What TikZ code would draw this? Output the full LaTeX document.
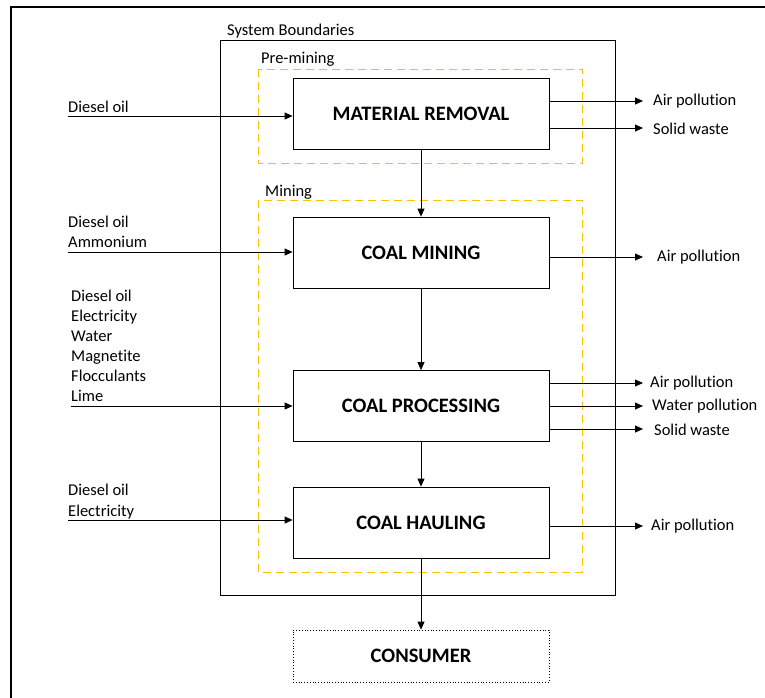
\documentclass[tikz,border=0pt]{standalone}
\usepackage{fontspec}
\setmainfont{Carlito}[Ligatures={NoCommon}]
\usetikzlibrary{arrows.meta}
\begin{document}
\begin{tikzpicture}[x=1pt,y=-1pt,
  every node/.style={font=\fontsize{16.5}{19}\selectfont},
  proc/.style={draw, line width=0.8pt, minimum width=256pt, minimum height=71pt, inner sep=0pt,
     font=\fontsize{20.5}{24}\selectfont\bfseries},
  zone/.style={line width=1pt, dash pattern=on 8pt off 5pt},
  arr/.style={line width=0.8pt, -{Triangle[length=8pt,width=7pt]}},
  txt/.style={inner sep=0pt, anchor=base west},
  outl/.style={inner sep=0pt, anchor=west}]
\definecolor{zoneorange}{HTML}{FFC000}
\useasboundingbox (0,0) rectangle (765,697);
\begin{scope}
\clip (0,0) rectangle (765,697);
\draw[line width=2.2pt] (11,720) -- (11,7) -- (790,7);
\end{scope}
% system boundary
\draw[line width=0.8pt] (220,40) rectangle (615,595);
\node[txt] (sb) at (227,35) {System Boundaries};
% zones
\draw[zone, draw=zoneorange] (258,69) rectangle (582,163);
\node[txt] (pm) at (261,63) {Pre-mining};
\draw[zone, draw=zoneorange] (258,200) rectangle (582,572);
\node[txt] (mn) at (265,196) {Mining};
% process boxes
\node[proc] (mr) at (421,113.5) {\raisebox{-4pt}{MATERIAL REMOVAL}};
\node[proc] (cm) at (421,252.5) {COAL MINING};
\node[proc] (cp) at (421,406) {COAL PROCESSING};
\node[proc] (ch) at (421,522.5) {\raisebox{-1pt}{COAL HAULING}};
\node[proc, dotted, line width=0.7pt, minimum height=52pt] (cs) at (421,656) {CONSUMER};
% vertical flow
\draw[arr] (mr) -- (cm);
\draw[arr] (cm) -- (cp);
\draw[arr] (cp) -- (ch);
\draw[arr] (ch) -- (cs);
% inputs
\node[txt] (l1) at (68,112) {Diesel oil};
\coordinate (i1) at (68,116);
\draw[arr] (i1) -- (mr.west |- i1);
\node[txt] (l2a) at (68,227) {Diesel oil};
\node[txt] (l2b) at (68,247) {Ammonium};
\coordinate (i2) at (68,252);
\draw[arr] (i2) -- (cm.west |- i2);
\node[txt] (l3a) at (71,301) {Diesel oil};
\node[txt] (l3b) at (71,321) {Electricity};
\node[txt] (l3c) at (71,341) {Water};
\node[txt] (l3d) at (71,361) {Magnetite};
\node[txt] (l3e) at (71,381) {Flocculants};
\node[txt] (l3f) at (71,401) {Lime};
\coordinate (i3) at (71,406);
\draw[arr] (i3) -- (cp.west |- i3);
\node[txt] (l4a) at (68,495) {Diesel oil};
\node[txt] (l4b) at (68,516) {Electricity};
\coordinate (i4) at (68,520);
\draw[arr] (i4) -- (ch.west |- i4);
% outputs
\coordinate (e1) at (643,101);
\coordinate (e2) at (643,128);
\coordinate (e3) at (643,257);
\coordinate (e4) at (643,383);
\coordinate (e5) at (643,406);
\coordinate (e6) at (643,429);
\coordinate (e7) at (643,526);
\draw[arr] (mr.east |- e1) -- (e1);
\draw[arr] (mr.east |- e2) -- (e2);
\draw[arr] (cm.east |- e3) -- (e3);
\draw[arr] (cp.east |- e4) -- (e4);
\draw[arr] (cp.east |- e5) -- (e5);
\draw[arr] (cp.east |- e6) -- (e6);
\draw[arr] (ch.east |- e7) -- (e7);
\node[outl] (o1) at (653,101) {Air pollution};
\node[outl] (o2) at (653,129) {Solid waste};
\node[outl] (o3) at (657,257) {Air pollution};
\node[outl] (o4) at (650,383) {Air pollution};
\node[outl] (o5) at (652,406) {Water pollution};
\node[outl] (o6) at (654,430) {Solid waste};
\node[outl] (o7) at (651,526) {Air pollution};
\end{tikzpicture}
\end{document}
